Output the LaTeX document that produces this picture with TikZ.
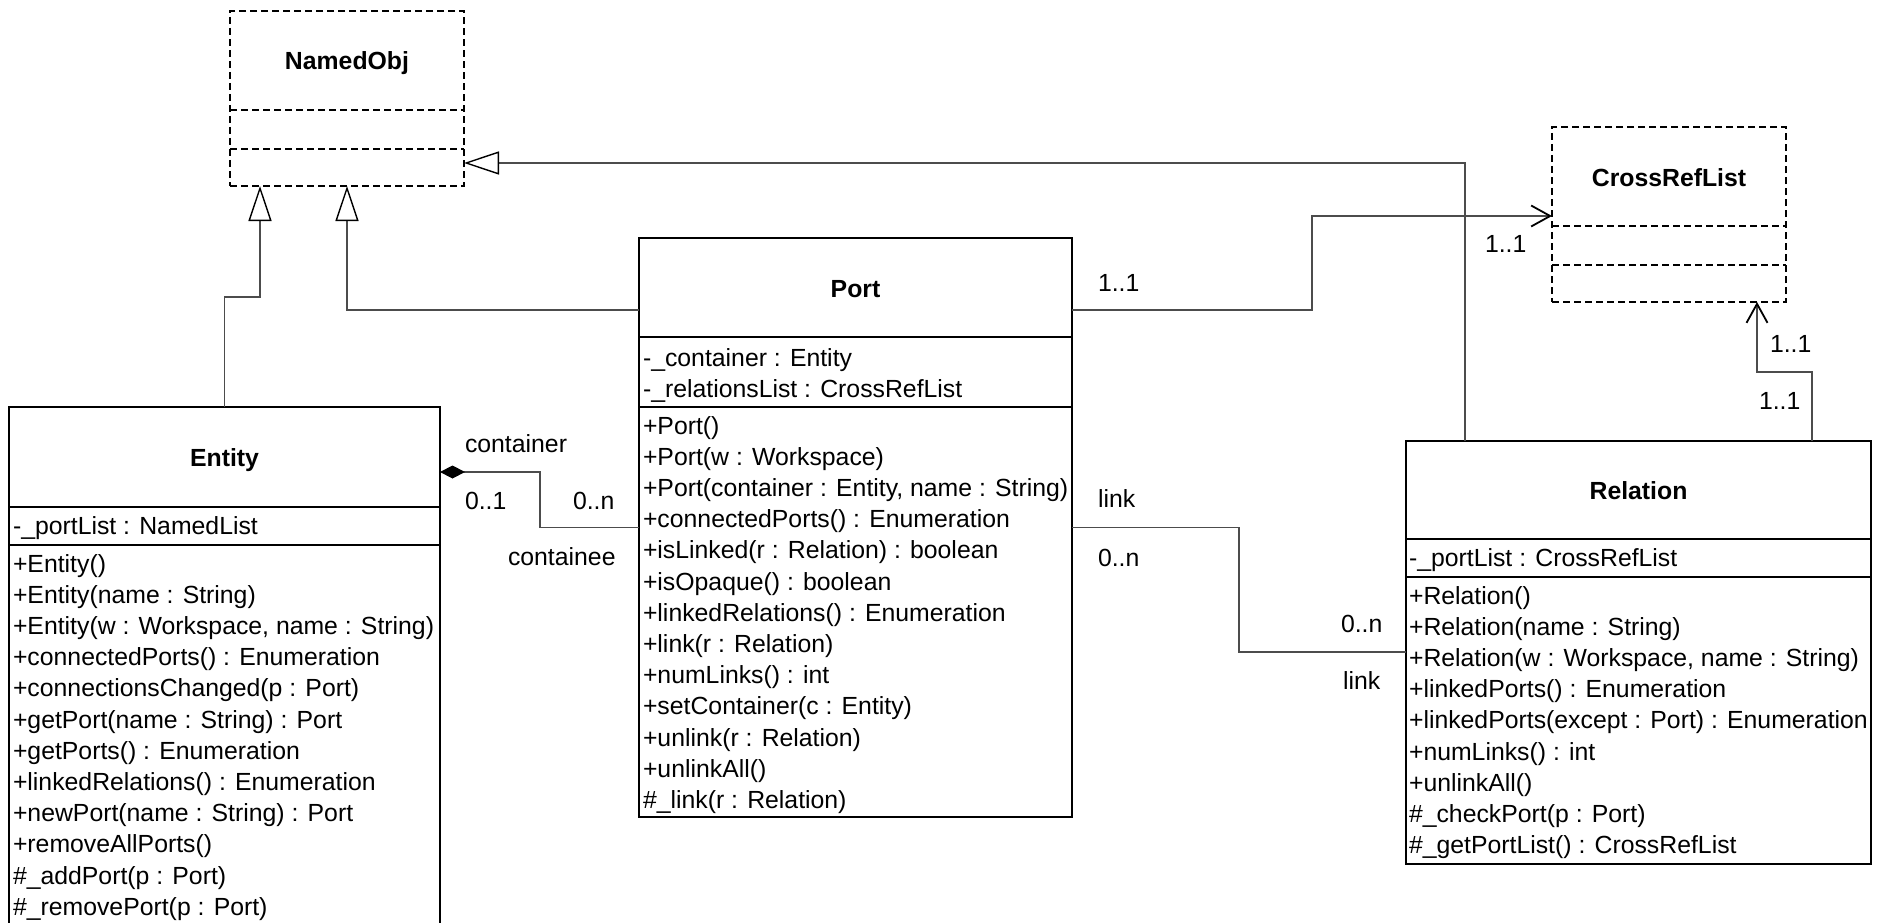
\documentclass[tikz,border=0pt]{standalone}
\usepackage{fontspec}
\setmainfont{Liberation Sans}
\usetikzlibrary{arrows.meta}
\begin{document}
\begin{tikzpicture}[x=1pt,y=-1pt,
  every node/.style={font=\fontsize{24.8pt}{31pt}\selectfont, inner sep=0pt, outer sep=0pt},
  classbox/.style={draw=black, line width=2pt, anchor=north west, fill=white},
  ifacebox/.style={classbox, dash pattern=on 7pt off 4pt},
  sepline/.style={draw=black, line width=2pt},
  ifacesep/.style={sepline, dash pattern=on 7pt off 4pt},
  title/.style={anchor=base, font=\fontsize{24.8pt}{31pt}\selectfont\bfseries},
  row/.style={anchor=base west},
  lbl/.style={anchor=base west},
  link/.style={draw=black!70, line width=1.3pt},
  gen/.style={link, -{Triangle[open, length=35pt, width=23pt, fill=white, color=black, line width=1.4pt]}},
  nav/.style={link, -{Straight Barb[length=19pt, width=21pt, line width=1.8pt, color=black]}},
  comp/.style={link, {Diamond[length=25pt, width=13pt, color=black]}-},
]
\useasboundingbox (0,0) rectangle (1884,923);

% ---------- NamedObj ----------
\node[ifacebox, minimum width=234pt, minimum height=175pt] (namedobj) at (230,11) {};
\draw[ifacesep] ([yshift=-99pt]namedobj.north west) -- ([yshift=-99pt]namedobj.north east);
\draw[ifacesep] ([yshift=-138pt]namedobj.north west) -- ([yshift=-138pt]namedobj.north east);
\node[title] (namedobj-t) at ([yshift=-59pt]namedobj.north) {NamedObj};

% ---------- CrossRefList ----------
\node[ifacebox, minimum width=234pt, minimum height=175pt] (crossref) at (1552,127) {};
\draw[ifacesep] ([yshift=-99pt]crossref.north west) -- ([yshift=-99pt]crossref.north east);
\draw[ifacesep] ([yshift=-138pt]crossref.north west) -- ([yshift=-138pt]crossref.north east);
\node[title] (crossref-t) at ([yshift=-59pt]crossref.north) {CrossRefList};

% ---------- Entity ----------
\node[classbox, minimum width=431pt, minimum height=540pt] (entity) at (9,407) {};
\draw[sepline] ([yshift=-100pt]entity.north west) -- ([yshift=-100pt]entity.north east);
\draw[sepline] ([yshift=-138pt]entity.north west) -- ([yshift=-138pt]entity.north east);
\node[title] (entity-t) at ([yshift=-59pt]entity.north) {Entity};
\node[row] (entity-a0) at (13,534) {-\_portList : NamedList};
\foreach \t [count=\i from 0] in {
  {+Entity()},
  {+Entity(name : String)},
  {+Entity(w : Workspace, name : String)},
  {+connectedPorts() : Enumeration},
  {+connectionsChanged(p : Port)},
  {+getPort(name : String) : Port},
  {+getPorts() : Enumeration},
  {+linkedRelations() : Enumeration},
  {+newPort(name : String) : Port},
  {+removeAllPorts()},
  {\#\_addPort(p : Port)},
  {\#\_removePort(p : Port)}}
  \node[row] (entity-m\i) at (13,{572+\i*31.2}) {\t};

% ---------- Port ----------
\node[classbox, minimum width=433pt, minimum height=579pt] (port) at (639,238) {};
\draw[sepline] ([yshift=-99pt]port.north west) -- ([yshift=-99pt]port.north east);
\draw[sepline] ([yshift=-169pt]port.north west) -- ([yshift=-169pt]port.north east);
\node[title] (port-t) at ([yshift=-59pt]port.north) {Port};
\node[row] (port-a0) at (643,366) {-\_container : Entity};
\node[row] (port-a1) at (643,397) {-\_relationsList : CrossRefList};
\foreach \t [count=\i from 0] in {
  {+Port()},
  {+Port(w : Workspace)},
  {+Port(container : Entity, name : String)},
  {+connectedPorts() : Enumeration},
  {+isLinked(r : Relation) : boolean},
  {+isOpaque() : boolean},
  {+linkedRelations() : Enumeration},
  {+link(r : Relation)},
  {+numLinks() : int},
  {+setContainer(c : Entity)},
  {+unlink(r : Relation)},
  {+unlinkAll()},
  {\#\_link(r : Relation)}}
  \node[row] (port-m\i) at (643,{434+\i*31.2}) {\t};

% ---------- Relation ----------
\node[classbox, minimum width=465pt, minimum height=423pt] (relation) at (1406,441) {};
\draw[sepline] ([yshift=-98pt]relation.north west) -- ([yshift=-98pt]relation.north east);
\draw[sepline] ([yshift=-136pt]relation.north west) -- ([yshift=-136pt]relation.north east);
\node[title] (relation-t) at ([yshift=-58pt]relation.north) {Relation};
\node[row] (relation-a0) at (1409,566) {-\_portList : CrossRefList};
\foreach \t [count=\i from 0] in {
  {+Relation()},
  {+Relation(name : String)},
  {+Relation(w : Workspace, name : String)},
  {+linkedPorts() : Enumeration},
  {+linkedPorts(except : Port) : Enumeration},
  {+numLinks() : int},
  {+unlinkAll()},
  {\#\_checkPort(p : Port)},
  {\#\_getPortList() : CrossRefList}}
  \node[row] (relation-m\i) at (1409,{604+\i*31.2}) {\t};

% ---------- generalizations ----------
\draw[gen] (entity.north) -- ++(0,-110) -| ([xshift=30pt]namedobj.south west);
\draw[gen] ([yshift=-72pt]port.north west) -| ([xshift=117pt]namedobj.south west);
\draw[gen] ([xshift=59pt]relation.north west) |- ([yshift=-152pt]namedobj.north east);

% ---------- associations ----------
\draw[nav] ([yshift=-72pt]port.north east) -- ++(240,0) |- ([yshift=-89pt]crossref.north west);
\draw[link] (port.east) -- ++(167,0) |- ([yshift=-211pt]relation.north west);
\draw[nav] ([xshift=406pt]relation.north west) -- ++(0,-69) -| ([xshift=205pt]crossref.south west);
\draw[comp] ([yshift=-65pt]entity.north east) -- ++(100,0) |- (port.west);

% ---------- role names and multiplicities ----------
\node[lbl] (l-container) at (465,452) {container};
\node[lbl] (l-c01) at (465,509) {0..1};
\node[lbl] (l-c0n) at (573,509) {0..n};
\node[lbl] (l-containee) at (508,565) {containee};
\node[lbl] (l-p11) at (1098,291) {1..1};
\node[lbl] (l-x11) at (1485,252) {1..1};
\node[lbl] (l-plink) at (1098,507) {link};
\node[lbl] (l-p0n) at (1098,566) {0..n};
\node[lbl] (l-r0n) at (1341,632) {0..n};
\node[lbl] (l-rlink) at (1343,689) {link};
\node[lbl] (l-x11b) at (1770,352) {1..1};
\node[lbl] (l-r11) at (1759,409) {1..1};
\end{tikzpicture}
\end{document}
